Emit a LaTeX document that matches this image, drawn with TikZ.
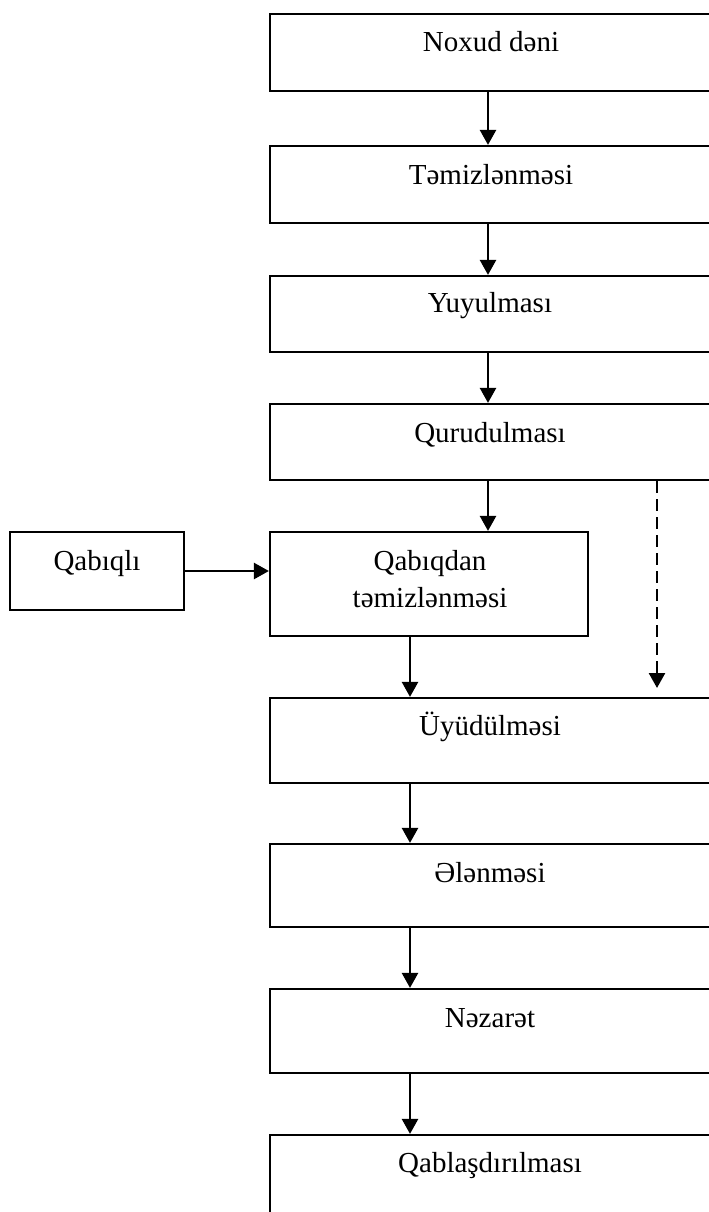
\documentclass[tikz,border=0pt]{standalone}
\usepackage{fontspec}
\setmainfont{Liberation Serif}
\usetikzlibrary{arrows.meta,calc}
\begin{document}
\begin{tikzpicture}[x=1pt,y=-1pt,
  box/.style={draw,line width=2.2pt,rectangle,inner sep=0pt},
  lbl/.style={anchor=base,inner sep=0pt,font=\fontsize{29}{37}\selectfont},
  arr/.style={line width=2.5pt,-{Triangle[width=16pt,length=15pt]}},
  darr/.style={line width=2.5pt,dash pattern=on 12pt off 6pt,-{Triangle[width=16pt,length=15pt]}}]
\useasboundingbox (0,0) rectangle (709,1212);
% main column boxes (right edge beyond the page)
\node[box,minimum width=446pt,minimum height=77pt] (b1) at (493,52.5) {};
\node[box,minimum width=446pt,minimum height=77pt] (b2) at (493,184.5) {};
\node[box,minimum width=446pt,minimum height=76pt] (b3) at (493,314) {};
\node[box,minimum width=446pt,minimum height=76pt] (b4) at (493,442) {};
\node[box,minimum width=318pt,minimum height=104pt] (b5) at (429,584) {};
\node[box,minimum width=174pt,minimum height=78pt] (b0) at (97,571) {};
\node[box,minimum width=446pt,minimum height=85pt] (b6) at (493,740.5) {};
\node[box,minimum width=446pt,minimum height=83pt] (b7) at (493,885.5) {};
\node[box,minimum width=446pt,minimum height=84pt] (b8) at (493,1031) {};
\node[box,minimum width=446pt,minimum height=110pt] (b9) at (493,1190) {};
% texts
\node[lbl] (t1) at (491,52) {Noxud dəni};
\node[lbl] (t2) at (491,184) {Təmizlənməsi};
\node[lbl] (t3) at (490,312) {Yuyulması};
\node[lbl] (t4) at (490,442) {Qurudulması};
\node[lbl] (t5a) at (430,570) {Qabıqdan};
\node[lbl] (t5b) at (430,607) {təmizlənməsi};
\node[lbl] (t0) at (97,570) {Qabıqlı};
\node[lbl] (t6) at (490,735) {Üyüdülməsi};
\node[lbl] (t7) at (490,882) {Ələnməsi};
\node[lbl] (t8) at (490,1027) {Nəzarət};
\node[lbl] (t9) at (490,1172) {Qablaşdırılması};
% connectors
\coordinate (cu) at (488,0);
\coordinate (cl) at (410,0);
\coordinate (cd) at (657,0);
\coordinate (dend) at (657,688);
\draw[arr] (b1.south -| cu) -- (b2.north -| cu);
\draw[arr] (b2.south -| cu) -- (b3.north -| cu);
\draw[arr] (b3.south -| cu) -- (b4.north -| cu);
\draw[arr] (b4.south -| cu) -- (b5.north -| cu);
\draw[arr] (b0.east) -- (b0.east -| b5.west);
\draw[arr] (b5.south -| cl) -- (b6.north -| cl);
\draw[arr] (b6.south -| cl) -- (b7.north -| cl);
\draw[arr] (b7.south -| cl) -- (b8.north -| cl);
\draw[arr] (b8.south -| cl) -- (b9.north -| cl);
\draw[darr] (b4.south -| cd) -- (dend);
\end{tikzpicture}
\end{document}
